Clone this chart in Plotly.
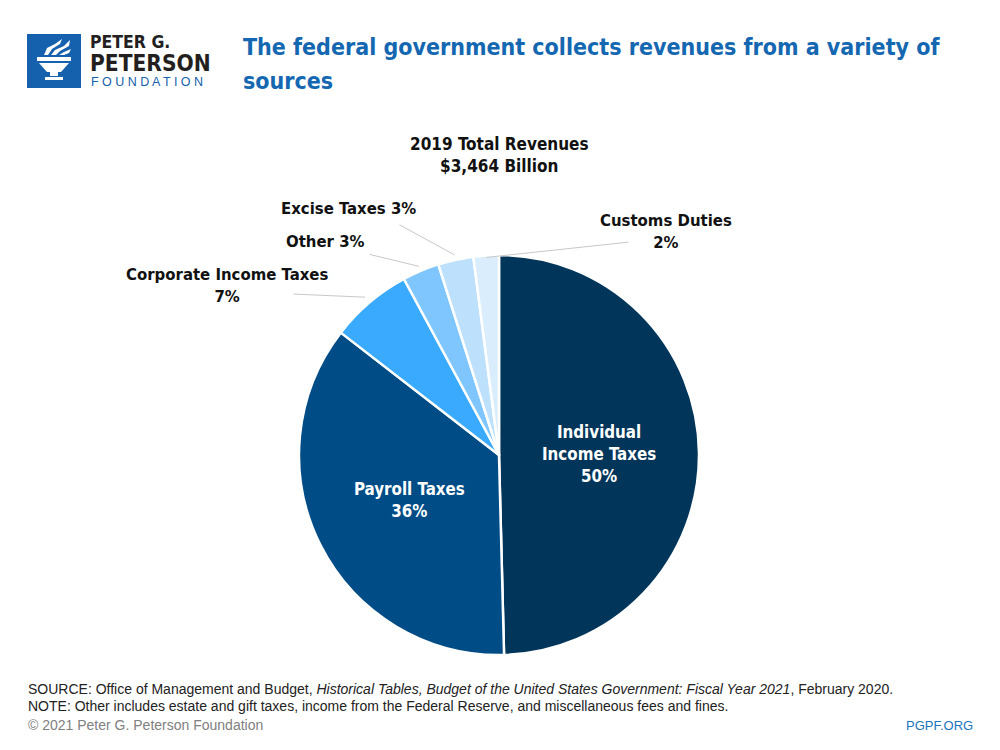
import math
import plotly.graph_objects as go

# ---------------- data ----------------
categories = ["Individual Income Taxes", "Payroll Taxes", "Corporate Income Taxes",
              "Other", "Excise Taxes", "Customs Duties"]
revenues_billion = [1718, 1243, 230, 103, 99, 71]
total_label = "2019 Total Revenues"
total_value = 3464
slice_colors = ["#02355A", "#004C86", "#39AAFD", "#7FC6FE", "#BDE1FD", "#DAEDFC"]

# ---------------- layout constants (page pixels) ----------------
OFF = 8                # page body margin
W, H = 984, 734        # figure size
CX, CY, R = 499, 455, 200

BOLD = "Liberation Sans Narrow, DejaVu Sans Condensed, Arial Narrow, sans-serif"
REG = "Liberation Sans, Arial, sans-serif"


def px(x):
    return (x - OFF) / W


def py(y):
    return 1 - (y - OFF) / H


total = sum(revenues_billion)
pcts = [round(v / total * 100) for v in revenues_billion]

# mid angles (clockwise from 12 o'clock), computed from the data
mids = []
cum = 0
for v in revenues_billion:
    a0 = cum / total * 360
    cum += v
    a1 = cum / total * 360
    mids.append((a0 + a1) / 2)


def polar(angle_deg, frac):
    a = math.radians(angle_deg)
    return CX + R * frac * math.sin(a), CY - R * frac * math.cos(a)


fig = go.Figure()
fig.add_trace(go.Pie(
    labels=categories,
    values=revenues_billion,
    sort=False,
    direction="clockwise",
    rotation=0,
    textinfo="none",
    marker=dict(colors=slice_colors, line=dict(color="white", width=2.5)),
    domain=dict(x=[px(CX - R), px(CX + R)], y=[py(CY + R), py(CY - R)]),
    showlegend=False,
    hovertemplate="%{label}: $%{value:,} billion (%{percent})<extra></extra>",
))

annotations = []


def txt(x, y, text, size, color, family=BOLD, xanchor="center", align="center"):
    annotations.append(dict(x=px(x), y=py(y), xref="paper", yref="paper",
                            text=text, showarrow=False, align=align, borderpad=0,
                            font=dict(family=family, size=size, color=color),
                            xanchor=xanchor, yanchor="middle"))


# inside labels
txt(*polar(mids[0], 0.5), "<b>Individual<br>Income Taxes<br>%d%%</b>" % pcts[0], 16.8, "white")
txt(*polar(mids[1], 0.5), "<b>Payroll Taxes<br>%d%%</b>" % pcts[1], 16.8, "white")

# outside labels: (index, text, text centre, leader tail, head radius fraction)
outside = [
    (2, "Corporate Income Taxes<br>%d%%" % pcts[2], (227, 286), (292, 294), 1.035),
    (3, "Other %d%%" % pcts[3], (325, 242), (368, 254), 1.025),
    (4, "Excise Taxes %d%%" % pcts[4], (348, 208), (398, 224), 1.025),
    (5, "Customs Duties<br>%d%%" % pcts[5], (666, 231), (630, 242), 0.99),
]
for i, t, (tx, ty), (lx, ly), fr in outside:
    hx, hy = polar(mids[i], fr)
    annotations.append(dict(x=px(hx), y=py(hy), xref="paper", yref="paper",
                            text="", showarrow=True, arrowhead=0, arrowwidth=1,
                            arrowcolor="#c8c8c8", ax=lx - hx, ay=ly - hy, standoff=0))
    txt(tx, ty, "<b>%s</b>" % t, 16.6, "#111111")

# total
txt(499, 155, "<b>%s<br>$%s Billion</b>" % (total_label, f"{total_value:,}"), 17, "#111111")

# title (two lines)
txt(242, 47, "<b>The federal government collects revenues from a variety of</b>", 23,
    "#1467B1", xanchor="left", align="left")
txt(242, 81, "<b>sources</b>", 23, "#1467B1", xanchor="left", align="left")

# logo text
txt(89, 42, "<b>PETER G.</b>", 17.5, "#231F20", xanchor="left", align="left")
txt(89, 63, "<b>PETERSON</b>", 22.5, "#231F20", xanchor="left", align="left")
txt(90, 82, "F O U N D A T I O N", 12.5, "#1561AD", family=REG, xanchor="left", align="left")

# footer
txt(27, 689, "SOURCE: Office of Management and Budget, <i>Historical Tables, Budget of the United States Government: Fiscal Year 2021</i>, February 2020.",
    14, "#222222", family=REG, xanchor="left", align="left")
txt(27, 706, "NOTE: Other includes estate and gift taxes, income from the Federal Reserve, and miscellaneous fees and fines.",
    14, "#222222", family=REG, xanchor="left", align="left")
txt(27, 725, "© 2021 Peter G. Peterson Foundation", 14, "#808080", family=REG,
    xanchor="left", align="left")
annotations.append(dict(x=px(974), y=py(725), xref="paper", yref="paper", text="PGPF.ORG",
                        showarrow=False, borderpad=0,
                        font=dict(family=REG, size=13, color="#1B75BC"),
                        xanchor="right", yanchor="middle"))


def path(points, close=True):
    s = "M " + " L ".join("%f,%f" % (px(x), py(y)) for x, y in points)
    return s + (" Z" if close else "")


def white_poly(points):
    return dict(type="path", xref="paper", yref="paper", path=path(points),
                fillcolor="white", line=dict(width=0))


shapes = [
    dict(type="rect", xref="paper", yref="paper", x0=px(27), x1=px(81), y0=py(88), y1=py(34),
         fillcolor="#1561AD", line=dict(width=0)),
    white_poly([(37, 57), (71, 57), (71, 61), (37, 61)]),
    white_poly([(39, 63), (69, 63), (61, 72), (47, 72)]),
    white_poly([(50, 72), (58, 72), (58, 76), (50, 76)]),
    white_poly([(45, 77), (63, 77), (63, 80), (45, 80)]),
    white_poly([(44, 55), (47, 48), (55, 44), (62, 39), (60, 44), (52, 49), (48, 55)]),
    white_poly([(51, 55), (55, 50), (64, 46), (70, 40), (69, 46), (60, 51), (56, 55)]),
    white_poly([(59, 55), (64, 52), (71, 49), (69, 53), (64, 55)]),
]

fig.update_layout(
    width=W, height=H,
    margin=dict(l=0, r=0, t=0, b=0),
    paper_bgcolor="white",
    plot_bgcolor="white",
    annotations=annotations,
    shapes=shapes,
)

fig.write_html("out.html")
